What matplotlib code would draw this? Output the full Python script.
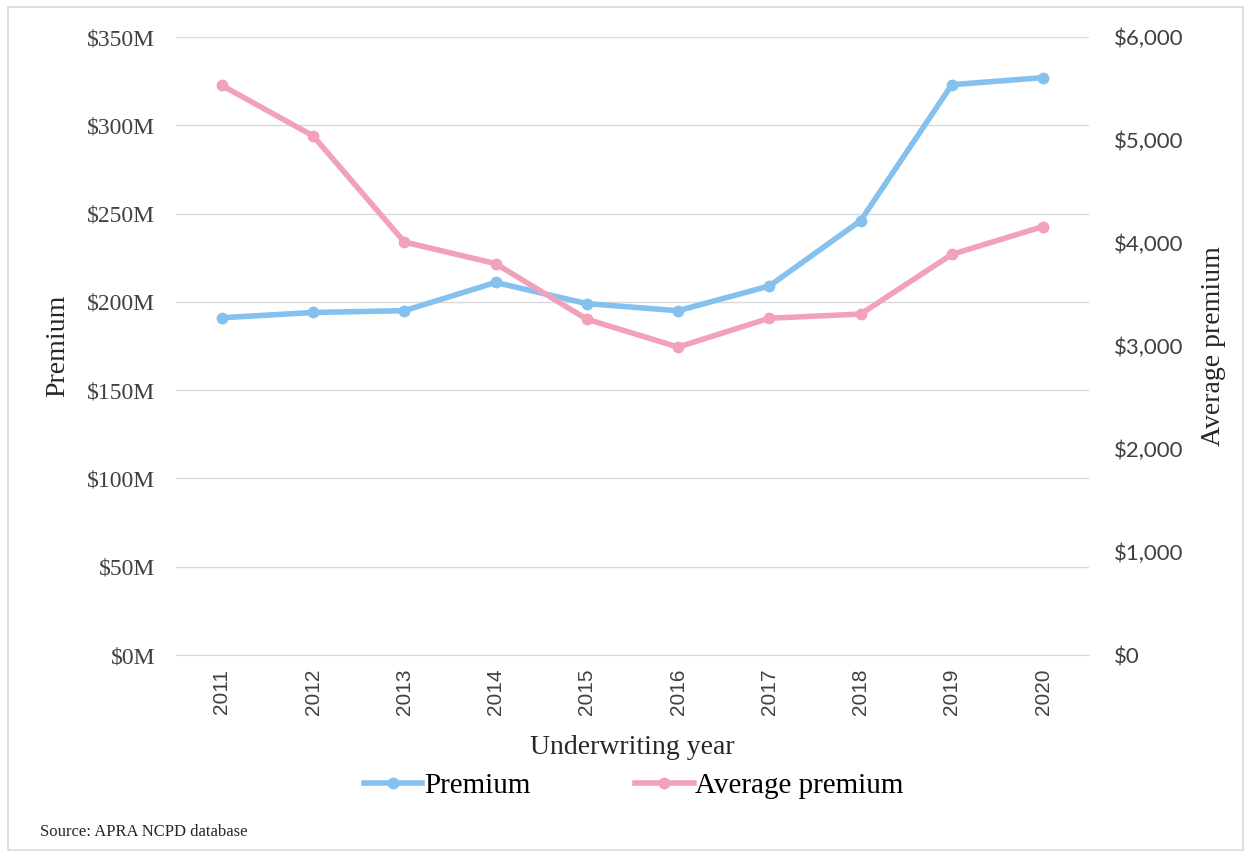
import matplotlib.pyplot as plt
from matplotlib.patches import Rectangle
from matplotlib.ticker import FuncFormatter

years = ['2011', '2012', '2013', '2014', '2015', '2016', '2017', '2018', '2019', '2020']
premium_m = [191, 194, 195, 211, 199, 195, 209, 246, 323, 327]        # $M
avg_premium = [5530, 5040, 4010, 3800, 3260, 2990, 3270, 3310, 3890, 4160]  # $

blue = '#85c1ee'
pink = '#f2a1bb'
serif = 'Liberation Serif'

fig = plt.figure(figsize=(12.5, 8.57), dpi=100)
ax = fig.add_axes([0.141, 0.2357, 0.730, 0.7211])
ax2 = ax.twinx()

x = range(len(years))
l1, = ax.plot(x, premium_m, color=blue, lw=4, marker='o', ms=7.5, label='Premium')
l2, = ax2.plot(x, avg_premium, color=pink, lw=4, marker='o', ms=7.5, label='Average premium')

ax.set_xlim(-0.5, len(years) - 0.5)
ax.set_ylim(0, 350)
ax2.set_ylim(0, 6000)
ax.set_yticks(range(0, 351, 50))
ax2.set_yticks(range(0, 6001, 1000))
ax.yaxis.set_major_formatter(FuncFormatter(lambda v, p: f'${v:.0f}M'))
ax2.yaxis.set_major_formatter(FuncFormatter(lambda v, p: f'${v:,.0f}'))

ax.set_xticks(list(x))
ax.set_xticklabels(years, rotation=90, fontsize=15, family='Liberation Sans', color='#404040')
ax.grid(axis='y', color='#d9d9d9', lw=1)
ax.set_axisbelow(True)
for a in (ax, ax2):
    for s in a.spines.values():
        s.set_visible(False)
    a.tick_params(length=0)
ax.spines['bottom'].set_visible(True)
ax.spines['bottom'].set_color('#d9d9d9')

for t in ax.get_yticklabels():
    t.set_family(serif)
    t.set_fontsize(17)
    t.set_color('#404040')
for t in ax2.get_yticklabels():
    t.set_family('Lato')
    t.set_fontsize(16)
    t.set_color('#404040')
ax.tick_params(axis='y', pad=15)
ax2.tick_params(axis='y', pad=18)
ax.tick_params(axis='x', pad=10)

ax.set_ylabel('Premium', family=serif, fontsize=20, color='#262626', labelpad=12)
ax2.set_ylabel('Average premium', family=serif, fontsize=20, color='#262626', labelpad=13)
ax.set_xlabel('Underwriting year', family=serif, fontsize=20, color='#262626', labelpad=14)

fig.legend([l1, l2], ['Premium', 'Average premium'], loc='center', bbox_to_anchor=(0.507, 0.083),
           ncol=2, frameon=False, prop={'family': serif, 'size': 21}, handlelength=2.0,
           handletextpad=0.05, columnspacing=3.6)

fig.text(0.032, 0.024, 'Source: APRA NCPD database', family=serif, fontsize=12, color='#262626')
fig.patches.append(Rectangle((0.0065, 0.008), 0.988, 0.984, transform=fig.transFigure,
                             fill=False, edgecolor='#d9d9d9', lw=1.2))

fig.savefig('out.png', dpi=100)
